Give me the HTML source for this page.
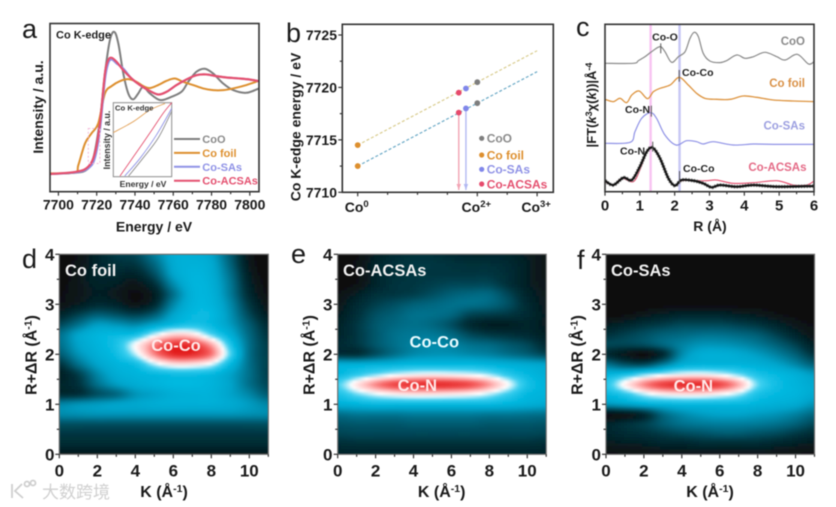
<!DOCTYPE html>
<html lang="en">
<head>
<meta charset="utf-8">
<title>Co K-edge XAS figure</title>
<style>
html,body{margin:0;padding:0;background:#fff;width:836px;height:507px;overflow:hidden}
svg{display:block;font-family:"Liberation Sans","Noto Sans CJK SC",sans-serif;filter:blur(.4px)}
.b{font-weight:700}
.tick{font-weight:700;font-size:14px;fill:#1a1a1a}
.tick-c{font-weight:700;font-size:15px;fill:#1a1a1a}
.tick-h{font-weight:700;font-size:17px;fill:#1a1a1a}
.title{font-weight:700;font-size:14px;fill:#1a1a1a}
.title-h{font-weight:700;font-size:16px;fill:#1a1a1a}
.letter{font-size:27px;fill:#1a1a1a}
</style>
</head>
<body>
<svg id="fig" xmlns="http://www.w3.org/2000/svg" width="836" height="507" viewBox="0 0 836 507">
<defs>
<filter id="soft" x="-5%" y="-5%" width="110%" height="110%"><feGaussianBlur stdDeviation="1"/></filter>
<clipPath id="clip-d"><rect x="59.3" y="254.3" width="209" height="200"/></clipPath>
<clipPath id="clip-e"><rect x="337.7" y="254.3" width="208.5" height="200"/></clipPath>
<clipPath id="clip-f"><rect x="606" y="254.3" width="208.5" height="200"/></clipPath>
</defs>
<g id="layer-a"></g>
<g id="layer-b"></g>
<g id="layer-c"></g>
<g id="layer-d"></g>
<g id="layer-e"></g>
<g id="layer-f"></g>

<g id="text-layer">
<text class="letter" x="22" y="38">a</text>
<text class="letter" x="286" y="42">b</text>
<text class="letter" x="576" y="36">c</text>
<text class="letter" x="22" y="268">d</text>
<text class="letter" x="291" y="263">e</text>
<text class="letter" x="577" y="269">f</text>

<text class="title" x="154" y="231.500" text-anchor="middle">Energy / eV</text>
<text class="title" transform="translate(43,107) rotate(-90)" text-anchor="middle">Intensity / a.u.</text>
<text class="b" x="56" y="38.500" font-size="11" fill="#1f1f1f">Co K-edge</text>
<text class="b" x="115" y="110.500" font-size="7.700" fill="#333">Co K-edge</text>
<text class="b" transform="translate(110,140) rotate(-90)" text-anchor="middle" font-size="8.800" fill="#333">Intensity / a.u.</text>
<text class="b" x="143" y="187" text-anchor="middle" font-size="8.600" fill="#333">Energy / eV</text>

<text class="title" transform="translate(300.500,127) rotate(-90)" text-anchor="middle">Co K-edge energy / eV</text>

<text class="title" x="710" y="231" text-anchor="middle">R (Å)</text>
<text class="b" transform="translate(596,105) rotate(-90)" text-anchor="middle" font-size="13" fill="#1a1a1a">|FT(<tspan font-style="italic">k</tspan><tspan dy="-4" font-size="9">3</tspan><tspan dy="4">χ(</tspan><tspan font-style="italic">k</tspan>))|Å<tspan dy="-4" font-size="9">-4</tspan></text>

<text class="b" x="805" y="45" text-anchor="end" font-size="11.500" fill="#8a8a8a">CoO</text>
<text class="b" x="805" y="87" text-anchor="end" font-size="11.500" fill="#d99045">Co foil</text>
<text class="b" x="805" y="129.500" text-anchor="end" font-size="11.500" fill="#9c9fe0">Co-SAs</text>
<text class="b" x="806.500" y="171" text-anchor="end" font-size="11.500" fill="#e46a86">Co-ACSAs</text>
<text class="b" x="665" y="40.500" text-anchor="middle" font-size="10.500" fill="#222">Co-O</text>
<text class="b" x="682" y="76" font-size="10.500" fill="#222">Co-Co</text>
<text class="b" x="625" y="113" font-size="10.500" fill="#222">Co-N</text>
<text class="b" x="620" y="154.500" font-size="10.500" fill="#222">Co-N</text>
<text class="b" x="683" y="172" font-size="10.500" fill="#222">Co-Co</text>

<text class="title-h" x="164" y="497" text-anchor="middle">K (Å<tspan dy="-5" font-size="10.500">-1</tspan><tspan dy="5">)</tspan></text>
<text class="title-h" transform="translate(36.500,355) rotate(-90)" text-anchor="middle">R+ΔR (Å<tspan dy="-5" font-size="10.500">-1</tspan><tspan dy="5">)</tspan></text>
<text class="title-h" x="441.700" y="497" text-anchor="middle">K (Å<tspan dy="-5" font-size="10.500">-1</tspan><tspan dy="5">)</tspan></text>
<text class="title-h" transform="translate(314.500,355) rotate(-90)" text-anchor="middle">R+ΔR (Å<tspan dy="-5" font-size="10.500">-1</tspan><tspan dy="5">)</tspan></text>
<text class="title-h" x="710" y="497" text-anchor="middle">K (Å<tspan dy="-5" font-size="10.500">-1</tspan><tspan dy="5">)</tspan></text>
<text class="title-h" transform="translate(582.500,355) rotate(-90)" text-anchor="middle">R+ΔR (Å<tspan dy="-5" font-size="10.500">-1</tspan><tspan dy="5">)</tspan></text>

<text class="b" x="65" y="276" font-size="16.500" fill="#f2f2f2">Co foil</text>
<text class="b" x="176" y="351" text-anchor="middle" font-size="16.500" fill="#ffe8e8">Co-Co</text>
<text class="b" x="343" y="276" font-size="16.500" fill="#f2f2f2">Co-ACSAs</text>
<text class="b" x="434.300" y="347.500" text-anchor="middle" font-size="16.500" fill="#e8fbff">Co-Co</text>
<text class="b" x="417.300" y="391" text-anchor="middle" font-size="16.500" fill="#ffe8e8">Co-N</text>
<text class="b" x="611" y="276" font-size="16.500" fill="#f2f2f2">Co-SAs</text>
<text class="b" x="693.300" y="391.500" text-anchor="middle" font-size="16.500" fill="#ffe8e8">Co-N</text>
</g>

<g fill="none" stroke="#cfcfcf" stroke-width="1.800">
<path d="M12 484v14M22 484l-7 7 8 7"/>
<circle cx="27" cy="484" r="2.500"/>
<circle cx="33" cy="483" r="2.500"/>
<text x="42" y="498" font-size="17" fill="#d0d0d0" stroke="none" font-family="'Noto Sans CJK SC',sans-serif">大数跨境</text>
</g>
</svg>

<script>
/* ---------- panel a: XANES ---------- */
const aXTicks = [7700, 7720, 7740, 7760, 7780, 7800];
const aXMinor = [7710, 7730, 7750, 7770, 7790];
const energyCoO = [7695.6,7709.5,7715,7718.2,7721.7,7724.3,7726.9,7729.2,7731.3,7733.9,7736.5,7739,7741.7,7744.3,7747.8,7753,7758.2,7764.3,7767.8,7772.1,7776.5,7780.8,7786,7791.3,7798.2,7804.8];
const intensityCoO = [.105,.113,.133,.198,.426,.703,.901,.95,.881,.703,.584,.549,.584,.624,.584,.545,.56,.594,.653,.713,.731,.703,.644,.604,.588,.614];
const energyFoil = [7695.6,7708.6,7710.4,7713.9,7717.3,7720.8,7724.3,7727.8,7732.1,7736.5,7740.8,7744.3,7747.8,7752.1,7756.5,7760.8,7765.2,7770.4,7775.6,7780.8,7786,7791.3,7798.2,7804.8];
const intensityFoil = [.109,.115,.158,.287,.347,.406,.584,.628,.657,.669,.653,.628,.616,.634,.659,.673,.653,.634,.614,.604,.604,.614,.634,.66];
const energySAs = [7695.6,7709.5,7715.6,7719,7721.7,7724.3,7726,7727.8,7730.4,7733.9,7738.2,7742.6,7746.9,7752.1,7756.5,7761.7,7766.9,7772.1,7777.3,7782.5,7787.8,7794.7,7799.9,7804.8];
const intensitySAs = [.105,.115,.139,.198,.366,.663,.762,.786,.762,.733,.673,.634,.604,.578,.594,.634,.667,.693,.697,.687,.679,.673,.667,.657];
const energyACSAs = [7695.6,7709.5,7715.6,7719,7721.7,7724.3,7726,7727.8,7730.4,7733.9,7738.2,7742.6,7746.9,7752.1,7756.5,7761.7,7766.9,7772.1,7777.3,7782.5,7787.8,7794.7,7799.9,7804.8];
const intensityACSAs = [.105,.119,.149,.228,.406,.703,.782,.796,.772,.723,.673,.634,.604,.578,.594,.634,.667,.693,.697,.687,.679,.673,.667,.657];
const insetEnergyFoil = [7715.6,7717.7,7719.4,7721];
const insetValueFoil = [.292,.323,.355,.374];
const insetEnergyACSAs = [7716.3,7717.7,7719.4,7720.8,7721.7];
const insetValueACSAs = [.17,.224,.29,.346,.376];
const insetEnergySAs = [7716.8,7718.4,7720.1,7721.7];
const insetValueSAs = [.17,.22,.285,.36];
const insetEnergyCoO = [7717.2,7718.7,7720.3,7721.7];
const insetValueCoO = [.17,.22,.277,.352];
const legendNames = ["CoO","Co foil","Co-SAs","Co-ACSAs"];

/* ---------- panel b: edge energy vs valence ---------- */
const bYTicks = [7710, 7715, 7720, 7725];
const bYMinor = [7712.5, 7717.5, 7722.5];
const bXTicks = [0, 2, 3];
const bXLabels = ["0", "2+", "3+"];
const bXMinor = [0.5, 1, 1.5, 2.5];
const bUpperValence = [0, 3];
const bUpperEnergy = [7714.5, 7723.5];
const bLowerValence = [0, 3];
const bLowerEnergy = [7712.5, 7721.5];
const bPointNames = ["foil","foil","coo","coo","sas","sas","acsas","acsas"];
const bPointValence = [0, 0, 2, 2, 1.81, 1.81, 1.69, 1.69];
const bPointEnergy = [7714.5, 7712.5, 7720.5, 7718.5, 7719.9, 7718, 7719.5, 7717.6];

/* ---------- panel c: FT-EXAFS (intensity in arbitrary units) ---------- */
const cXTicks = [0, 1, 2, 3, 4, 5, 6];
const cXMinor = [.5, 1.5, 2.5, 3.5, 4.5, 5.5];
const rCoO = [0,.81,.96,1.15,1.34,1.58,1.72,1.91,2.11,2.30,2.44,2.56,2.68,2.82,3.01,3.30,3.49,3.78,4.02,4.26,4.59,4.93,5.17,5.52,5.84,6];
const ftCoO = [385,385,393,405,420,435,420,388,405,420,460,478,465,415,392,387,393,410,400,405,418,405,395,412,383,390];
const rFoil = [0,.24,.43,.62,.77,.98,1.22,1.39,1.58,1.87,2.13,2.39,2.63,2.87,3.21,3.59,3.97,4.35,4.83,5.41,6];
const ftFoil = [277,270,280,267,290,302,279,300,310,320,343,320,295,280,277,277,287,283,275,272,270];
const rSAs = [0,.72,.86,1.05,1.31,1.48,1.72,2.04,2.34,2.63,2.82,3.11,3.68,4.26,4.83,6];
const ftSAs = [145,148,180,220,237,220,170,140,153,150,143,150,140,143,142,142];
const rACSAs = [0,.24,.48,.81,1,1.2,1.37,1.58,1.82,2.01,2.2,2.54,2.92,3.21,3.68,4.26,4.93,5.41,5.79,6];
const ftACSAs = [30,20,40,30,65,120,132,100,40,18,33,33,33,35,25,27,33,20,20,32];
const rFit = [0,.24,.53,.77,1,1.2,1.37,1.58,1.82,2.01,2.2,2.54,2.82,3.06,3.3,3.78,4.26,4.93,6];
const ftFit = [33,20,42,35,75,120,132,100,40,18,35,33,25,13,20,15,20,15,17];
const cBandR = [1.31, 2.14];
const cMarkerR = [1.6, 2.13, 1.33, 1.37, 2.14];
const cMarkerLow = [415, 330, 225, 120, 25];
const cMarkerHigh = [445, 365, 258, 150, 62];

/* ---------- panels d, e, f: wavelet transform maps ---------- */
const heatK = [0,1,2,3,4,5,6,7,8,9,10,11];
const heatR = [4,3.8,3.6,3.4,3.2,3,2.8,2.6,2.4,2.2,2,1.8,1.6,1.4,1.2,1,.8,.6,.4,.2,0];
const heatKTicks = [0, 2, 4, 6, 8, 10];
const heatKMinor = [1, 3, 5, 7, 9, 11];
const heatRTicks = [0, 1, 2, 3, 4];
const heatRMinor = [.5, 1.5, 2.5, 3.5];
const heatCoFoil = [
[0,.03,.1,.17,.2,.33,.45,.46,.42,.25,.05,0],
[0,.04,.1,.14,.16,.28,.44,.47,.44,.27,.06,0],
[0,.05,.1,.11,.1,.22,.42,.48,.45,.3,.08,0],
[.01,.05,.09,.08,.05,.14,.36,.48,.46,.32,.1,.01],
[.02,.05,.08,.06,.02,.08,.3,.47,.47,.33,.12,.02],
[.03,.07,.12,.1,.04,.12,.35,.48,.48,.36,.16,.04],
[.1,.18,.25,.22,.18,.25,.42,.5,.5,.38,.2,.07],
[.2,.3,.4,.38,.35,.42,.5,.54,.5,.4,.25,.12],
[.3,.42,.48,.5,.52,.66,.76,.74,.6,.46,.28,.15],
[.3,.42,.48,.54,.7,.86,.96,.95,.82,.55,.3,.17],
[.25,.38,.46,.52,.66,.86,.98,.98,.88,.6,.3,.18],
[.15,.3,.42,.48,.52,.66,.74,.74,.68,.5,.3,.18],
[.08,.18,.35,.45,.48,.5,.52,.52,.5,.42,.3,.18],
[.1,.15,.3,.4,.45,.48,.5,.5,.48,.42,.3,.2],
[.12,.14,.22,.28,.38,.42,.46,.47,.47,.42,.35,.25],
[.35,.38,.4,.42,.43,.45,.46,.46,.46,.44,.4,.35],
[.36,.37,.38,.38,.38,.38,.38,.38,.38,.38,.37,.36],
[.22,.22,.22,.22,.22,.22,.22,.22,.22,.22,.22,.22],
[.16,.16,.16,.16,.16,.16,.16,.16,.16,.16,.16,.16],
[.12,.12,.12,.12,.12,.12,.12,.12,.12,.12,.12,.12],
[.06,.06,.06,.06,.06,.06,.06,.06,.06,.06,.06,.06]];
const heatCoACSAs = [
[.02,.02,.08,.12,.14,.14,.12,.1,.1,.1,.07,.04],
[.02,.03,.1,.14,.16,.16,.15,.14,.14,.12,.08,.04],
[.01,.02,.1,.14,.16,.16,.16,.16,.16,.13,.08,.04],
[.01,.03,.1,.15,.16,.18,.2,.2,.2,.14,.08,.05],
[.03,.08,.14,.16,.18,.22,.26,.28,.28,.2,.1,.06],
[.05,.12,.18,.22,.26,.28,.3,.3,.28,.22,.12,.06],
[.07,.14,.22,.26,.3,.3,.28,.2,.18,.16,.12,.07],
[.09,.16,.24,.28,.3,.28,.22,.12,.08,.08,.1,.07],
[.1,.16,.24,.3,.32,.32,.28,.2,.16,.14,.12,.08],
[.12,.16,.24,.3,.34,.36,.34,.3,.28,.24,.2,.12],
[.14,.14,.22,.3,.36,.38,.38,.36,.34,.3,.26,.2],
[.46,.46,.47,.48,.5,.5,.5,.5,.48,.46,.44,.42],
[.5,.56,.62,.67,.7,.71,.7,.68,.64,.56,.5,.46],
[.6,.74,.86,.94,.97,.98,.97,.93,.84,.7,.54,.48],
[.54,.62,.68,.72,.74,.74,.73,.71,.66,.58,.5,.48],
[.46,.48,.5,.5,.5,.5,.5,.5,.5,.48,.46,.44],
[.3,.32,.32,.32,.33,.33,.33,.33,.32,.32,.31,.3],
[.23,.24,.24,.24,.25,.25,.25,.25,.24,.24,.24,.23],
[.19,.2,.2,.2,.2,.2,.2,.2,.2,.2,.2,.19],
[.13,.14,.14,.14,.14,.14,.14,.14,.14,.14,.14,.13],
[.09,.1,.1,.1,.1,.1,.1,.1,.1,.1,.1,.09]];
const heatCoSAs = [
[0,0,0,0,0,0,0,0,0,0,0,0],
[0,0,0,0,0,0,0,0,0,0,0,0],
[0,0,0,0,0,0,0,0,0,0,0,0],
[0,0,0,0,0,0,0,0,0,0,0,0],
[0,0,0,0,0,0,0,0,0,0,0,0],
[0,0,0,.01,.01,.01,.01,.01,.01,0,0,0],
[0,.02,.05,.08,.1,.1,.1,.08,.06,.03,.01,0],
[.07,.1,.14,.17,.2,.2,.2,.18,.15,.1,.05,.02],
[.14,.18,.22,.26,.28,.3,.3,.28,.25,.18,.1,.04],
[.2,.2,.22,.28,.34,.38,.38,.36,.32,.26,.18,.08],
[.12,.06,.02,.12,.36,.45,.46,.44,.4,.34,.26,.15],
[.3,.22,.2,.32,.45,.48,.48,.48,.46,.42,.35,.26],
[.48,.52,.6,.66,.7,.71,.68,.62,.54,.5,.46,.4],
[.56,.72,.86,.95,.98,.98,.94,.82,.62,.52,.48,.44],
[.5,.56,.66,.72,.74,.74,.71,.65,.54,.5,.48,.44],
[.38,.42,.46,.48,.5,.5,.5,.5,.48,.46,.44,.38],
[.03,.05,.12,.28,.36,.4,.42,.42,.4,.38,.34,.28],
[.1,.14,.18,.25,.3,.32,.33,.33,.32,.3,.26,.2],
[.1,.12,.14,.17,.2,.22,.24,.24,.22,.2,.16,.12],
[.06,.07,.08,.1,.1,.12,.12,.12,.12,.1,.08,.06],
[.02,.03,.03,.04,.05,.05,.05,.05,.05,.04,.03,.02]];

const NS = "http://www.w3.org/2000/svg";
function make(tag, attrs, parent, name, interactable) {
  const el = document.createElementNS(NS, tag);
  for (const k in attrs) el.setAttribute(k, attrs[k]);
  
  
  parent.appendChild(el);
  return el;
}
const linear = (d0, d1, r0, r1) => v => r0 + (v - d0) * (r1 - r0) / (d1 - d0);
function smoothPath(xs, ys, sx, sy) {
  const p = xs.map((x, i) => [sx(x), sy(ys[i])]);
  let d = "M" + p[0][0].toFixed(2) + " " + p[0][1].toFixed(2);
  for (let i = 0; i < p.length - 1; i++) {
    const a = p[Math.max(0, i - 1)], b = p[i], c = p[i + 1], e = p[Math.min(p.length - 1, i + 2)];
    const c1x = b[0] + (c[0] - a[0]) / 6, c1y = b[1] + (c[1] - a[1]) / 6;
    const c2x = c[0] - (e[0] - b[0]) / 6, c2y = c[1] - (e[1] - b[1]) / 6;
    d += "C" + c1x.toFixed(2) + " " + c1y.toFixed(2) + " " + c2x.toFixed(2) + " " + c2y.toFixed(2) + " " + c[0].toFixed(2) + " " + c[1].toFixed(2);
  }
  return d;
}
function frame(g, x0, y0, x1, y1, color, width, name) {
  make('rect', {x: x0, y: y0, width: x1 - x0, height: y1 - y0, fill: 'none', stroke: color, 'stroke-width': width}, g, name);
}
function ticksX(g, values, sx, y, len, name) {
  values.forEach(v => make('line', {x1: sx(v), x2: sx(v), y1: y, y2: y + len, stroke: '#333', 'stroke-width': 1.2}, g, name));
}
function ticksY(g, values, sy, x, len, name) {
  values.forEach(v => make('line', {x1: x, x2: x - len, y1: sy(v), y2: sy(v), stroke: '#333', 'stroke-width': 1.2}, g, name));
}
function label(g, txt, x, y, anchor, cls, name) {
  const t = make('text', {x: x, y: y, 'text-anchor': anchor, class: cls}, g, name);
  t.textContent = txt;
  return t;
}

/* ===== panel a ===== */
(function () {
  const g = document.getElementById('layer-a');
  const sx = linear(7695.6, 7804.8, 50, 259), sy = linear(0, 1, 191.7, 23.5);
  const stroke = {coo: '#7e7e7e', foil: '#dd8f2e', sas: '#8f92e6', acsas: '#e4506f'};
  make('path', {d: smoothPath(energyCoO, intensityCoO, sx, sy), fill: 'none', stroke: stroke.coo, 'stroke-width': 2}, g, 'line-coo');
  make('path', {d: smoothPath(energyFoil, intensityFoil, sx, sy), fill: 'none', stroke: stroke.foil, 'stroke-width': 2}, g, 'line-co-foil');
  make('path', {d: smoothPath(energySAs, intensitySAs, sx, sy), fill: 'none', stroke: stroke.sas, 'stroke-width': 2}, g, 'line-co-sas');
  make('path', {d: smoothPath(energyACSAs, intensityACSAs, sx, sy), fill: 'none', stroke: stroke.acsas, 'stroke-width': 2.200}, g, 'line-co-acsas');
  make('rect', {x: sx(7715.6), y: sy(.376), width: sx(7721.7) - sx(7715.6), height: sy(.168) - sy(.376), fill: 'none', stroke: '#f3b9d8', 'stroke-width': 1, 'stroke-dasharray': '2 2'}, g, 'zoom-region-box');

  /* inset */
  const ix0 = 113.3, ix1 = 171.7, iy0 = 102.7, iy1 = 176.7;
  make('rect', {x: ix0, y: iy0, width: ix1 - ix0, height: iy1 - iy0, fill: '#fff', stroke: '#8c8c8c', 'stroke-width': 1}, g, 'inset-frame');
  const isx = linear(7715.6, 7721.7, ix0, ix1), isy = linear(.168, .376, iy1, iy0);
  make('path', {d: smoothPath(insetEnergyFoil, insetValueFoil, isx, isy), fill: 'none', stroke: '#e3a45d', 'stroke-width': .9}, g, 'inset-line-co-foil');
  make('path', {d: smoothPath(insetEnergyCoO, insetValueCoO, isx, isy), fill: 'none', stroke: '#8e8e8e', 'stroke-width': .9}, g, 'inset-line-coo');
  make('path', {d: smoothPath(insetEnergySAs, insetValueSAs, isx, isy), fill: 'none', stroke: '#8f92e6', 'stroke-width': .9}, g, 'inset-line-co-sas');
  make('path', {d: smoothPath(insetEnergyACSAs, insetValueACSAs, isx, isy), fill: 'none', stroke: '#e4506f', 'stroke-width': .9}, g, 'inset-line-co-acsas');

  /* legend */
  const colors = [stroke.coo, stroke.foil, stroke.sas, stroke.acsas];
  const textCol = ['#8a8a8a', '#dd8f2e', '#8f92e6', '#e4506f'];
  legendNames.forEach((n, i) => {
    const y = 139 + i * 13.9;
    make('line', {x1: 174, x2: 200, y1: y, y2: y, stroke: colors[i], 'stroke-width': 2}, g, 'legend-line');
    const t = make('text', {x: 202.3, y: y + 4, 'font-size': 11, 'font-weight': 700, fill: textCol[i]}, g, 'legend-entry');
    t.textContent = n;
  });

  frame(g, 50, 23.5, 259, 191.7, '#333', 1.6, 'plot-frame-a');
  ticksX(g, aXTicks, sx, 191.7, 4, 'x-tick-a');
  ticksX(g, aXMinor, sx, 191.7, 2.5, 'x-minor-tick-a');
  aXTicks.forEach(v => label(g, v, sx(v), 209.5, 'middle', 'tick', 'x-tick-label-a'));
})();

/* ===== panel b ===== */
(function () {
  const g = document.getElementById('layer-b');
  const sx = linear(0, 3, 357.7, 537.1), sy = linear(7710, 7725, 192.3, 35);
  make('line', {x1: sx(bUpperValence[0]), x2: sx(bUpperValence[1]), y1: sy(bUpperEnergy[0]), y2: sy(bUpperEnergy[1]), stroke: '#d9cc8e', 'stroke-width': 1.2, 'stroke-dasharray': '3 2'}, g, 'fit-line-upper');
  make('line', {x1: sx(bLowerValence[0]), x2: sx(bLowerValence[1]), y1: sy(bLowerEnergy[0]), y2: sy(bLowerEnergy[1]), stroke: '#6aa9c6', 'stroke-width': 1.2, 'stroke-dasharray': '3 2'}, g, 'fit-line-lower');

  /* drop arrows from the lower points */
  const colorMap = {foil: '#dd8f2e', coo: '#7e7e7e', sas: '#8087ea', acsas: '#e64a6c'};
  const arrowCol = {sas: '#b2b8f2', acsas: '#f2a4b4'};
  bPointNames.forEach((n, i) => {
    if (i % 2 === 1 && arrowCol[n]) {
      const x = sx(bPointValence[i]);
      make('line', {x1: x, x2: x, y1: sy(bPointEnergy[i]), y2: 190, stroke: arrowCol[n], 'stroke-width': 1.4}, g, 'arrow-shaft-' + n);
      make('path', {d: 'M' + (x - 2.2) + ' 184L' + (x + 2.2) + ' 184L' + x + ' 190Z', fill: arrowCol[n]}, g, 'arrow-head-' + n);
    }
  });
  bPointNames.forEach((n, i) => {
    make('circle', {cx: sx(bPointValence[i]), cy: sy(bPointEnergy[i]), r: 2.9, fill: colorMap[n]}, g, 'point-' + n);
  });

  /* legend */
  const legCol = ['#7e7e7e', '#dd8f2e', '#8087ea', '#e64a6c'];
  const legTxt = ['#8a8a8a', '#dd8f2e', '#8f92e6', '#e4506f'];
  const legY = [138.3, 155, 169.3, 184];
  legendNames.forEach((n, i) => {
    make('circle', {cx: 481.7, cy: legY[i], r: 2.6, fill: legCol[i]}, g, 'legend-dot');
    const t = make('text', {x: 486.7, y: legY[i] + 4.3, 'font-size': 12, 'font-weight': 700, fill: legTxt[i]}, g, 'legend-entry');
    t.textContent = n;
  });

  frame(g, 342.3, 24.3, 553.3, 192.3, '#333', 1.6, 'plot-frame-b');
  ticksX(g, bXTicks, sx, 192.3, 4, 'x-tick-b');
  ticksX(g, bXMinor, sx, 192.3, 2.5, 'x-minor-tick-b');
  ticksY(g, bYTicks, sy, 342.3, 4, 'y-tick-b');
  ticksY(g, bYMinor, sy, 342.3, 2.5, 'y-minor-tick-b');
  bYTicks.forEach(v => label(g, v, 337, sy(v) + 5, 'end', 'tick', 'y-tick-label-b'));
  bXTicks.forEach((v, i) => {
    const t = label(g, 'Co', sx(v) - 1, 212, 'middle', 'tick', 'x-tick-label-b');
    const s = make('tspan', {dy: -5, 'font-size': 9.5}, t, 'x-tick-superscript-b');
    s.textContent = bXLabels[i];
  });
})();

/* ===== panel c ===== */
(function () {
  const g = document.getElementById('layer-c');
  const sx = linear(0, 6, 605, 814), sy = linear(0, 502, 191.7, 24.3);
  const bandCol = ['#f8c4f2', '#c6c6f4'];
  cBandR.forEach((r, i) => make('rect', {x: sx(r) - 1.2, y: 24.3, width: 2.4, height: 167.4, fill: bandCol[i]}, g, 'band-marker'));
  make('path', {d: smoothPath(rCoO, ftCoO, sx, sy), fill: 'none', stroke: '#8a8a8a', 'stroke-width': 1.2}, g, 'line-coo');
  make('path', {d: smoothPath(rFoil, ftFoil, sx, sy), fill: 'none', stroke: '#dd9440', 'stroke-width': 1.3}, g, 'line-co-foil');
  make('path', {d: smoothPath(rSAs, ftSAs, sx, sy), fill: 'none', stroke: '#8f92e6', 'stroke-width': 1.2}, g, 'line-co-sas');
  make('path', {d: smoothPath(rACSAs, ftACSAs, sx, sy), fill: 'none', stroke: '#e4506f', 'stroke-width': 1.1}, g, 'line-co-acsas');
  make('path', {d: smoothPath(rFit, ftFit, sx, sy), fill: 'none', stroke: '#8c8c8c', 'stroke-width': 3.8, 'stroke-dasharray': '1.6 1.2'}, g, 'fit-markers');
  make('path', {d: smoothPath(rFit, ftFit, sx, sy), fill: 'none', stroke: '#111', 'stroke-width': 2.1}, g, 'fit-line');
  cMarkerR.forEach((r, i) => make('line', {x1: sx(r), x2: sx(r), y1: sy(cMarkerLow[i]), y2: sy(cMarkerHigh[i]), stroke: '#555', 'stroke-width': 1}, g, 'peak-marker'));

  frame(g, 605, 24.3, 814, 191.7, '#333', 1.6, 'plot-frame-c');
  ticksX(g, cXTicks, sx, 191.7, 4, 'x-tick-c');
  ticksX(g, cXMinor, sx, 191.7, 2.5, 'x-minor-tick-c');
  cXTicks.forEach(v => label(g, v, sx(v), 210.5, 'middle', 'tick-c', 'x-tick-label-c'));
})();

/* ===== panels d, e, f ===== */
const colorStops = [[0,[10,10,10]],[.15,[3,50,60]],[.3,[5,111,138]],[.42,[6,164,203]],[.5,[4,184,224]],[.6,[63,208,240]],[.7,[255,255,255]],[.8,[255,190,190]],[.9,[246,96,96]],[1,[226,30,30]]];
function colormap(v) {
  v = Math.max(0, Math.min(1, v));
  for (let i = 0; i < colorStops.length - 1; i++) {
    const a = colorStops[i], b = colorStops[i + 1];
    if (v <= b[0]) {
      const t = (v - a[0]) / (b[0] - a[0]);
      return 'rgb(' + a[1].map((c, j) => Math.round(c + (b[1][j] - c) * t)).join(',') + ')';
    }
  }
  return 'rgb(226,30,30)';
}
function cubic(p0, p1, p2, p3, t) {
  return p1 + .5 * t * (p2 - p0 + t * (2 * p0 - 5 * p1 + 4 * p2 - p3 + t * (3 * (p1 - p2) + p3 - p0)));
}
function sample(m, col, row) {
  const nr = m.length, nc = m[0].length;
  const c = Math.floor(Math.max(0, Math.min(nc - 1.0001, col))), r = Math.floor(Math.max(0, Math.min(nr - 1.0001, row)));
  const tc = Math.max(0, Math.min(1, col - c)), tr = Math.max(0, Math.min(1, row - r));
  const vals = [];
  for (let j = -1; j <= 2; j++) {
    const rr = m[Math.max(0, Math.min(nr - 1, r + j))];
    vals.push(cubic(rr[Math.max(0, c - 1)], rr[c], rr[Math.min(nc - 1, c + 1)], rr[Math.min(nc - 1, c + 2)], tc));
  }
  return cubic(vals[0], vals[1], vals[2], vals[3], tr);
}
function heatPanel(id, matrix, x0, x1, y0, y1, labelX, suffix) {
  const g = document.getElementById('layer-' + id);
  const sx = linear(0, 11, x0, x1), sy = linear(0, 4, y1, y0);
  const clip = make('g', {'clip-path': 'url(#clip-' + id + ')'}, g, 'heatmap-clip-' + suffix);
  const cells = make('g', {filter: 'url(#soft)'}, clip, 'heatmap-' + suffix);
  const step = 3;
  const kStep = heatK[1] - heatK[0], rStep = heatR[0] - heatR[1];
  for (let py = y0 - 3; py < y1 + 3; py += step) {
    for (let px = x0 - 3; px < x1 + 3; px += step) {
      const k = (px + step / 2 - x0) / (x1 - x0) * 11;
      const r = (y1 - py - step / 2) / (y1 - y0) * 4;
      const col = (k - heatK[0]) / kStep;
      const row = (heatR[0] - r) / rStep;
      make('rect', {x: px, y: py, width: step + .5, height: step + .5, fill: colormap(sample(matrix, col, row))}, cells, 'heatmap-cell');
    }
  }
  frame(g, x0, y0, x1, y1, '#6f6f6f', 1.2, 'plot-frame-' + suffix);
  ticksX(g, heatKTicks, sx, y1, 4, 'x-tick-' + suffix);
  ticksX(g, heatKMinor, sx, y1, 2.5, 'x-minor-tick-' + suffix);
  ticksY(g, heatRTicks, sy, x0, 4, 'y-tick-' + suffix);
  ticksY(g, heatRMinor, sy, x0, 2.5, 'y-minor-tick-' + suffix);
  heatKTicks.forEach(v => label(g, v, sx(v), 476.5, 'middle', 'tick-h', 'x-tick-label-' + suffix));
  heatRTicks.forEach(v => label(g, v, labelX, sy(v) + 6, 'end', 'tick-h', 'y-tick-label-' + suffix));
}
heatPanel('d', heatCoFoil, 59.3, 268.3, 254.3, 454.3, 54.5, 'co-foil');
heatPanel('e', heatCoACSAs, 337.7, 546.2, 254.3, 454.3, 332.5, 'co-acsas');
heatPanel('f', heatCoSAs, 606, 814.5, 254.3, 454.3, 601, 'co-sas');
</script>
</body>
</html>
